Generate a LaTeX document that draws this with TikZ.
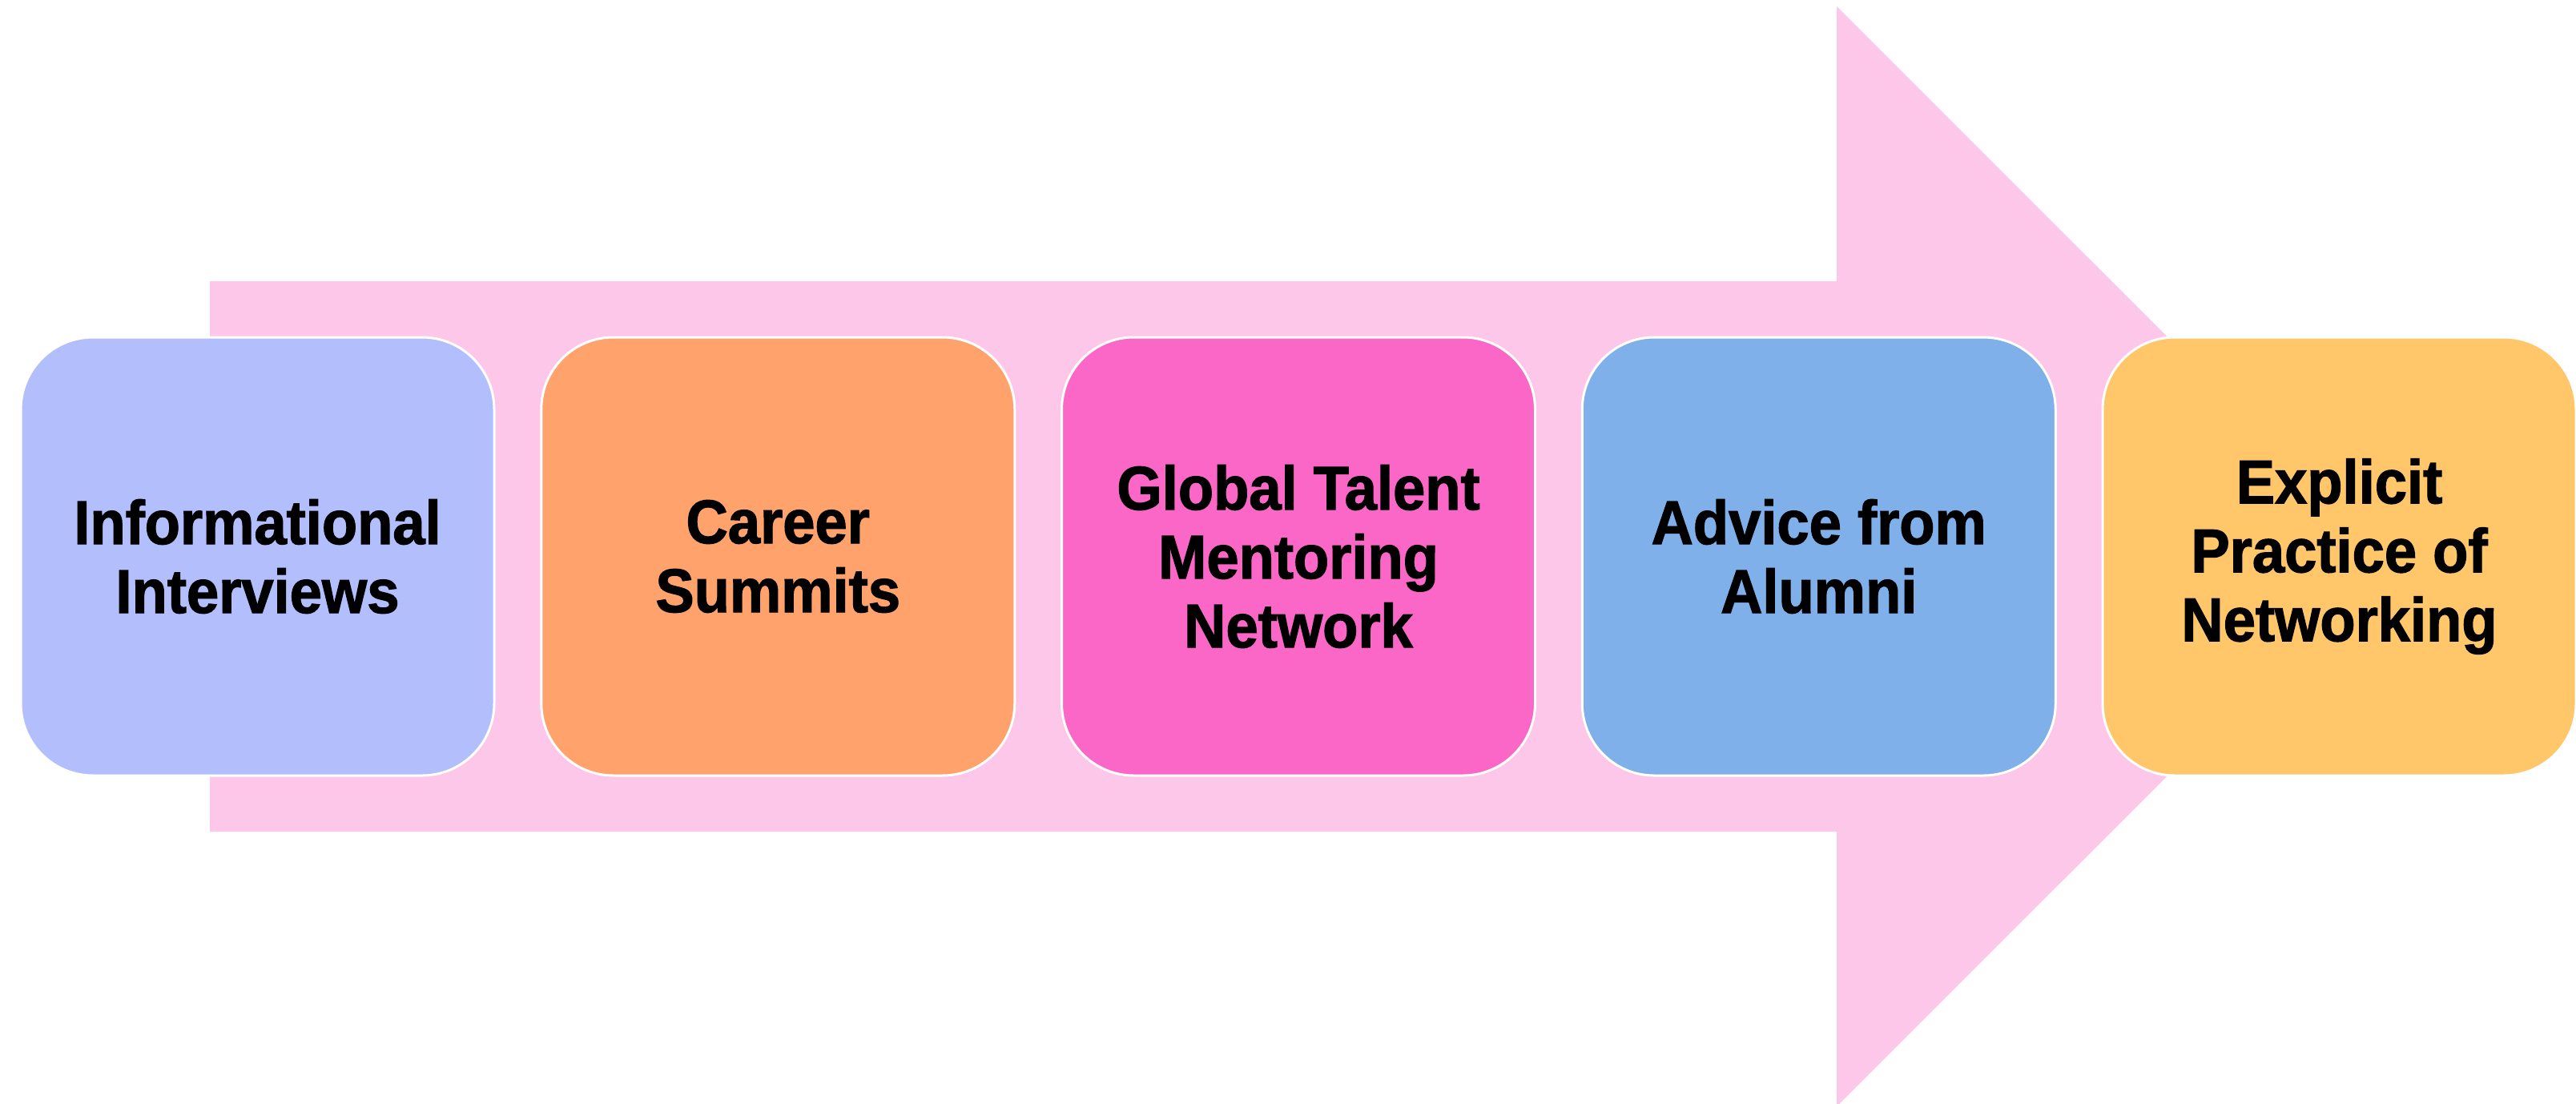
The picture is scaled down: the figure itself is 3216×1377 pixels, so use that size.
\documentclass[tikz,border=0pt]{standalone}
\usepackage{fontspec}
\setmainfont[FakeStretch=0.94,BoldFeatures={FakeBold=1.6}]{Liberation Sans}
\begin{document}
\begin{tikzpicture}[x=1pt,y=-1pt,
  stage/.style={draw=white, line width=3pt, rounded corners=90pt,
    minimum width=591pt, minimum height=547pt, align=center,
    font=\fontsize{77}{86}\selectfont\bfseries, text=black},
]
\definecolor{arrowpink}{HTML}{FDC7E9}
\definecolor{lavender}{HTML}{B3BEFD}
\definecolor{peach}{HTML}{FFA26B}
\definecolor{hotpink}{HTML}{FB67C6}
\definecolor{skyblue}{HTML}{7FB0EA}
\definecolor{amber}{HTML}{FFC76A}
\useasboundingbox (0,0) rectangle (3216,1377);
\clip (0,0) rectangle (3216,1377);
\fill[white] (0,0) rectangle (3216,1377);
% large block arrow behind the stages
\fill[arrowpink] (262,351) -- (2293,351) -- (2293,8) -- (2980,694.5)
  -- (2293,1381) -- (2293,1038) -- (262,1038) -- cycle;
% stages
\node[stage, fill=lavender] (s1) at (321.5,694.5) {Informational\\Interviews};
\node[stage, fill=peach]    (s2) at (971.25,694.5) {Career\\Summits};
\node[stage, fill=hotpink]  (s3) at (1621,694.5) {Global Talent\\Mentoring\\Network};
\node[stage, fill=skyblue]  (s4) at (2270.75,694.5) {Advice from\\Alumni};
\node[stage, fill=amber]    (s5) at (2920.5,694.5) {Explicit\\Practice of\\Networking};
\end{tikzpicture}
\end{document}
